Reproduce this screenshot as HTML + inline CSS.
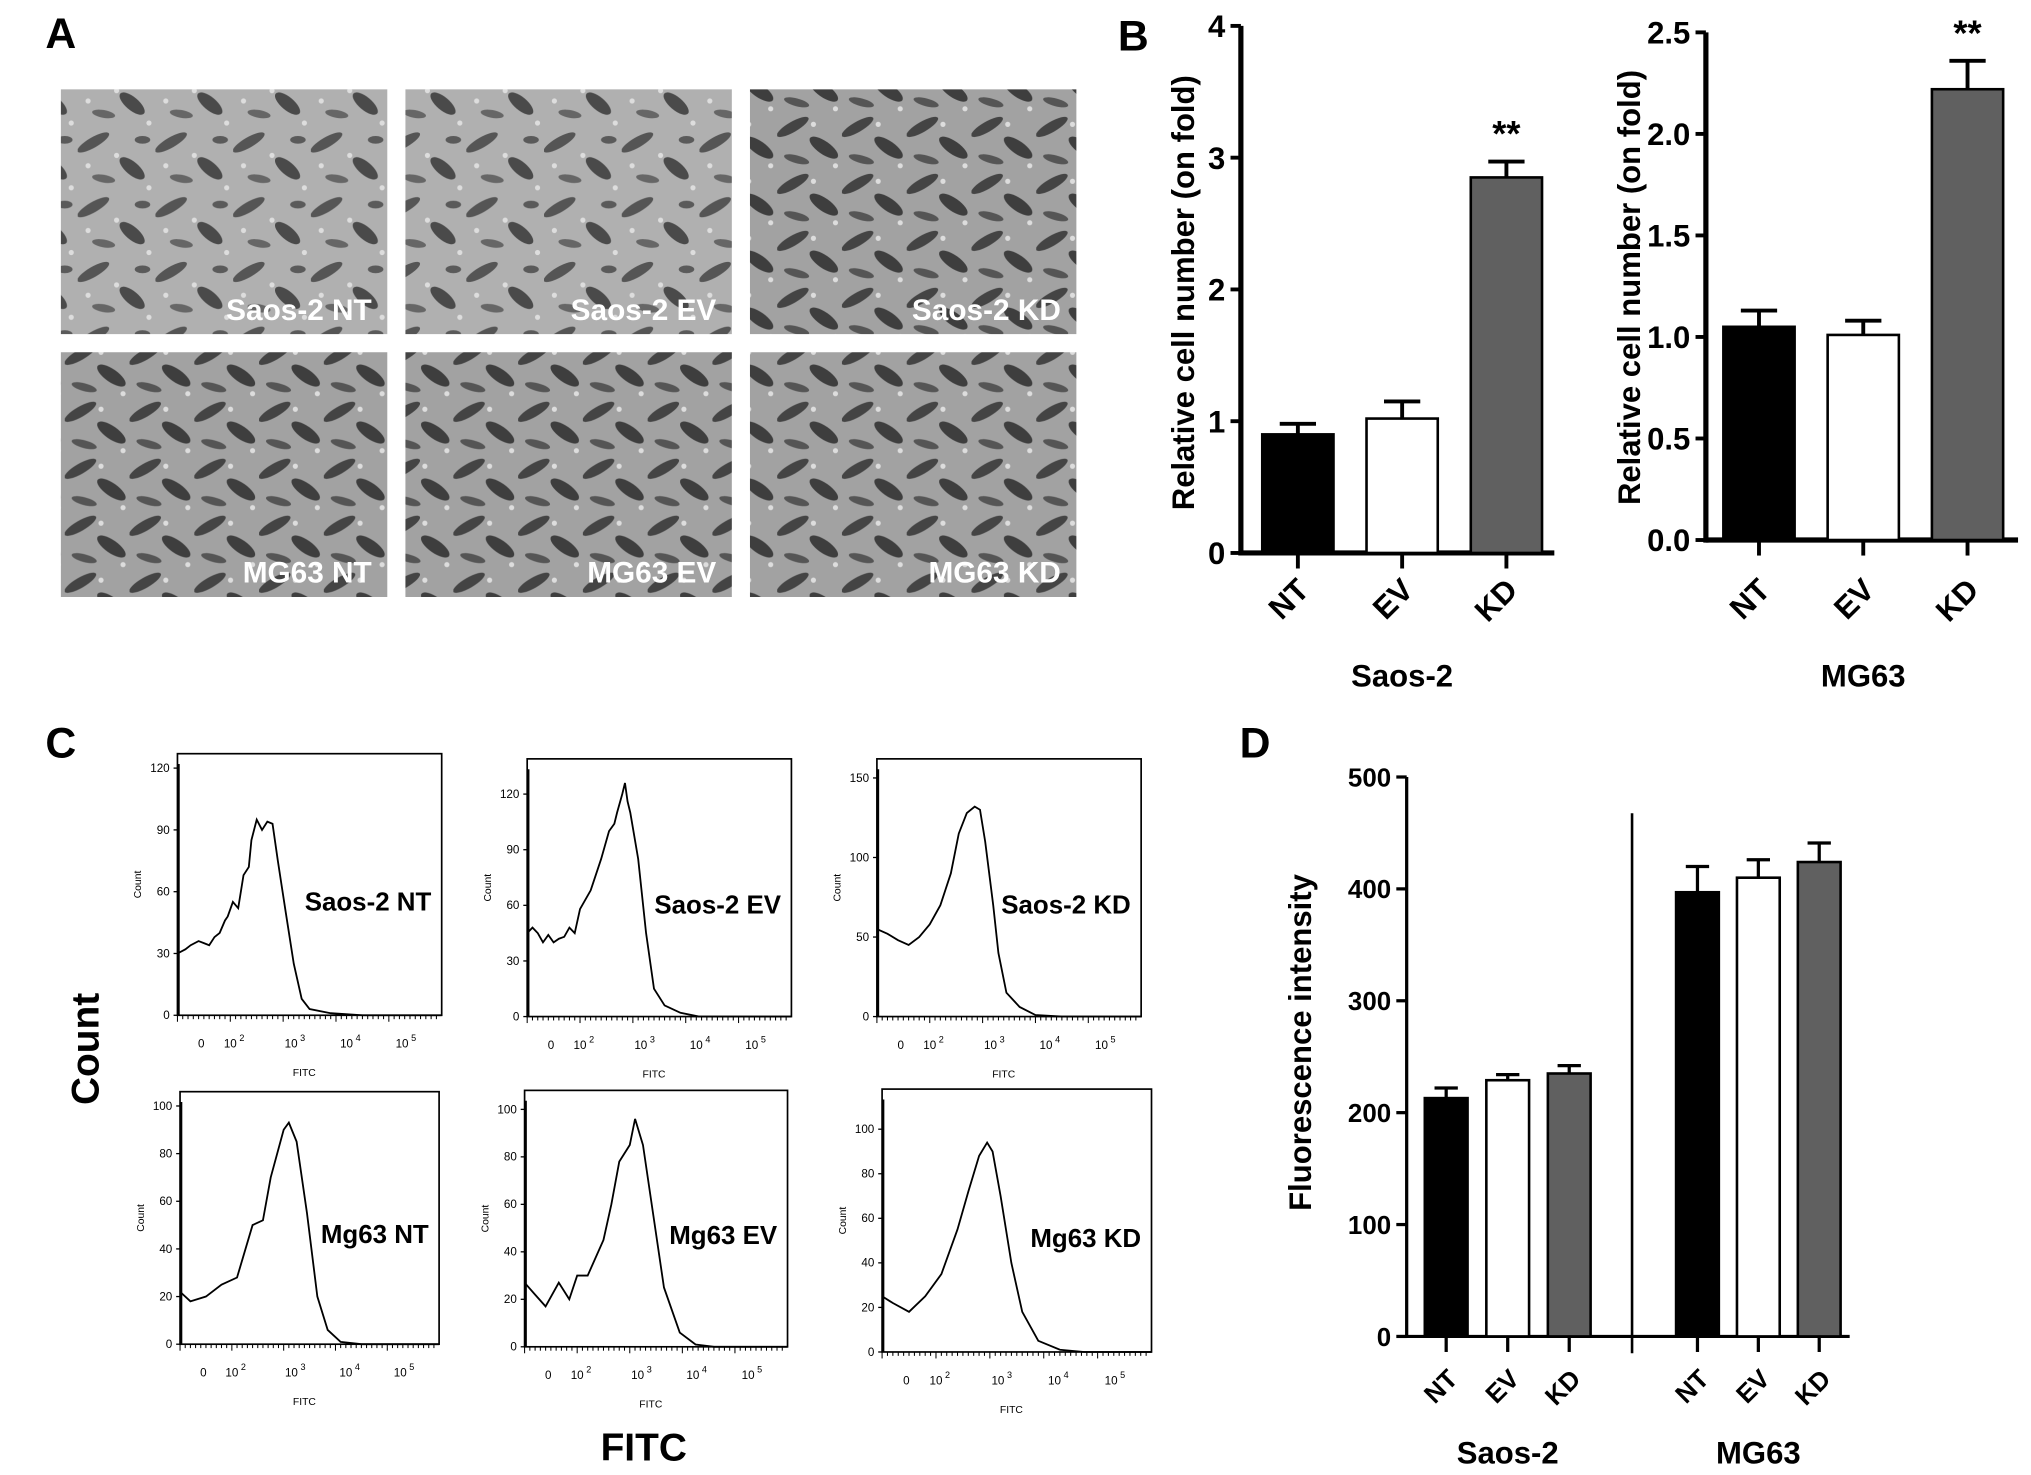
<!DOCTYPE html>
<html><head><meta charset="utf-8"><style>
html,body{margin:0;padding:0;background:#fff;}
svg{display:block;font-family:"Liberation Sans",Arial,sans-serif;}
</style></head><body>
<svg id="fig" width="2031" height="1475" viewBox="0 0 1568 1139" preserveAspectRatio="none" xmlns="http://www.w3.org/2000/svg">
<defs>
<pattern id="cells" width="60" height="50" patternUnits="userSpaceOnUse">
<rect width="60" height="50" fill="#b0b0b0"/>
<ellipse cx="12" cy="10" rx="14" ry="4" fill="#555" transform="rotate(-30 12 10)"/>
<ellipse cx="42" cy="30" rx="12" ry="5" fill="#4a4a4a" transform="rotate(40 42 30)"/>
<ellipse cx="20" cy="38" rx="9" ry="3" fill="#666" transform="rotate(10 20 38)"/>
<ellipse cx="50" cy="8" rx="6" ry="3" fill="#5a5a5a"/>
<circle cx="30" cy="20" r="2" fill="#ddd"/><circle cx="8" cy="28" r="2" fill="#ddd"/><circle cx="55" cy="45" r="2" fill="#ddd"/>
</pattern>
<pattern id="cells2" width="50" height="44" patternUnits="userSpaceOnUse">
<rect width="50" height="44" fill="#a2a2a2"/>
<ellipse cx="12" cy="10" rx="14" ry="4" fill="#444" transform="rotate(-30 12 10)"/>
<ellipse cx="36" cy="26" rx="13" ry="5" fill="#3e3e3e" transform="rotate(35 36 26)"/>
<ellipse cx="15" cy="35" rx="10" ry="3" fill="#555" transform="rotate(15 15 35)"/>
<circle cx="28" cy="8" r="2" fill="#ddd"/><circle cx="45" cy="40" r="2" fill="#ddd"/>
</pattern>
</defs>
<g id="root"></g>
</svg>
<script>
// ---------- Panel B data ----------
const bCats = ["NT","EV","KD"];
const bSaosVals = [0.90, 1.02, 2.85];
const bSaosErr = [0.08, 0.13, 0.12];
const bMgVals = [1.05, 1.01, 2.22];
const bMgErr = [0.08, 0.07, 0.14];
const bSaosTicks = [0,1,2,3,4];
const bMgTicks = ["0.0","0.5","1.0","1.5","2.0","2.5"];
// ---------- Panel D data ----------
const dCats = ["NT","EV","KD"];
const dSaosVals = [213, 229, 235];
const dSaosErr = [9, 5, 7];
const dMgVals = [397, 410, 424];
const dMgErr = [23, 16, 17];
const dTicks = [0,100,200,300,400,500];
// ---------- Panel C histogram data (x fraction of box, count) ----------
const hSaosNT = [[0,30],[0.03,32],[0.05,34],[0.08,36],[0.1,35],[0.12,34],[0.14,38],[0.16,40],[0.18,46],[0.19,48],[0.21,55],[0.23,52],[0.25,68],[0.27,72],[0.28,85],[0.3,95],[0.32,90],[0.34,94],[0.36,93],[0.38,75],[0.41,50],[0.44,25],[0.47,8],[0.5,3],[0.58,1],[0.7,0],[1,0]];
const hSaosEV = [[0,45],[0.02,48],[0.04,45],[0.06,40],[0.08,44],[0.1,40],[0.12,42],[0.14,43],[0.16,48],[0.18,45],[0.2,58],[0.24,68],[0.28,85],[0.31,100],[0.33,104],[0.34,110],[0.36,120],[0.37,126],[0.38,116],[0.39,110],[0.42,85],[0.45,45],[0.48,15],[0.52,6],[0.58,2],[0.65,0],[1,0]];
const hSaosKD = [[0,55],[0.04,52],[0.08,48],[0.12,45],[0.16,50],[0.2,58],[0.24,70],[0.28,90],[0.31,115],[0.34,128],[0.37,132],[0.39,130],[0.41,110],[0.44,70],[0.46,40],[0.49,15],[0.54,6],[0.6,1],[0.7,0],[1,0]];
const hMgNT = [[0,22],[0.04,18],[0.1,20],[0.16,25],[0.22,28],[0.28,50],[0.32,52],[0.35,70],[0.4,90],[0.42,93],[0.45,85],[0.49,55],[0.53,20],[0.57,6],[0.62,1],[0.7,0],[1,0]];
const hMgEV = [[0,27],[0.04,22],[0.08,17],[0.13,27],[0.17,20],[0.2,30],[0.24,30],[0.3,45],[0.33,60],[0.36,78],[0.4,85],[0.42,96],[0.45,85],[0.49,55],[0.53,25],[0.59,6],[0.65,1],[0.72,0],[1,0]];
const hMgKD = [[0,25],[0.04,22],[0.1,18],[0.16,25],[0.22,35],[0.28,55],[0.32,72],[0.36,88],[0.39,94],[0.41,90],[0.44,70],[0.48,40],[0.52,18],[0.58,5],[0.66,1],[0.75,0],[1,0]];
const hTicksA = [0,30,60,90,120];
const hTicksB = [0,50,100,150];
const hTicksC = [0,20,40,60,80,100];

const NS="http://www.w3.org/2000/svg";
const root=document.getElementById('root');
function el(tag,attrs,parent,txt){const e=document.createElementNS(NS,tag);for(const k in attrs)e.setAttribute(k,attrs[k]);if(txt!==undefined)e.textContent=txt;(parent||root).appendChild(e);return e;}
function txt(x,y,s,size,opts,parent){opts=opts||{};const a={x:x,y:y,'font-size':size,'font-weight':opts.w||'bold',fill:opts.fill||'#000','text-anchor':opts.anchor||'start'};if(opts.tr)a.transform=opts.tr;return el('text',a,parent,s);}

// Panel letters
[["A",35,37],["B",863,39],["C",35,585],["D",957,585]].forEach(p=>{
 const t=txt(p[1],p[2],p[0],33);
 
 
});

// ---------- Panel A micrographs ----------
const aLabels=[["Saos-2 NT","Saos-2 EV","Saos-2 KD"],["MG63 NT","MG63 EV","MG63 KD"]];
const aX=[47,313,579], aY=[69,272];
for(let r=0;r<2;r++)for(let c=0;c<3;c++){
 const g=el('g',{});
 
 
 el('rect',{x:aX[c],y:aY[r],width:252,height:189,fill:(r===1||c===2)?'url(#cells2)':'url(#cells)'},g);
 const t=txt(aX[c]+240,aY[r]+178,aLabels[r][c],23,{fill:'#fff',anchor:'end'},g);
 
 
}

// ---------- bar chart helper ----------
function barChart(cfg){
 const g=el('g',{});
 
 
 const y=v=>cfg.y0-(v-cfg.min)/(cfg.max-cfg.min)*(cfg.y0-cfg.yTop);
 const ya=el('line',{x1:cfg.ax,y1:cfg.yTop,x2:cfg.ax,y2:cfg.y0+cfg.axW/2,stroke:'#000','stroke-width':cfg.axW},g);
 
 
 cfg.ticks.forEach(tk=>{
  const v=parseFloat(tk);
  el('line',{x1:cfg.ax-8,y1:y(v),x2:cfg.ax,y2:y(v),stroke:'#000','stroke-width':cfg.tkW},g);
  const t=txt(cfg.ax-12,y(v)+cfg.fs*0.36,String(tk),cfg.fs,{anchor:'end'},g);
  
  
 });
 const yt=txt(0,0,cfg.ytitle,cfg.tfs,{anchor:'middle',tr:`translate(${cfg.titleX},${cfg.titleY}) rotate(-90)`},g);
 
 
 const xa=el('line',{x1:cfg.ax,y1:cfg.y0,x2:cfg.xEnd,y2:cfg.y0,stroke:'#000','stroke-width':cfg.axW},g);
 
 
 cfg.groups.forEach(gr=>{
  gr.vals.forEach((v,i)=>{
   const cx=gr.x0+i*gr.step;
   const fills=['#000','#fff','#606060'];
   const bt=y(v), be=y(v+gr.err[i]);
   const eb=el('line',{x1:cx,y1:bt,x2:cx,y2:be,stroke:'#000','stroke-width':cfg.tkW},g);
   
   
   el('line',{x1:cx-cfg.capW/2,y1:be,x2:cx+cfg.capW/2,y2:be,stroke:'#000','stroke-width':cfg.tkW},g);
   const b=el('rect',{x:cx-cfg.bw/2,y:bt,width:cfg.bw,height:cfg.y0-bt,fill:fills[i],stroke:'#000','stroke-width':2},g);
   
   
   el('line',{x1:cx,y1:cfg.y0,x2:cx,y2:cfg.y0+12,stroke:'#000','stroke-width':cfg.tkW},g);
   const lt=txt(0,0,cfg.cats[i],cfg.fs,{anchor:'end',tr:`translate(${cx+10},${cfg.y0+cfg.labDy}) rotate(-45)`},g);
   
   
   if(gr.star&&gr.star[i]){
    const s=txt(cx,be-12,gr.star[i],28,{anchor:'middle'},g);
    
    
   }
  });
  const gl=txt(gr.x0+gr.step,cfg.groupY,gr.label,cfg.tfs,{anchor:'middle'},g);
  
  
 });
 return {g,y};
}

barChart({name:'chart-b-saos2',ax:958,yTop:20,y0:427,min:0,max:4,xEnd:1200,axW:4,tkW:3,fs:24,tfs:24,ticks:bSaosTicks,
 ytitle:'Relative cell number (on fold)',titleX:922,titleY:226,capW:28,bw:55,labDy:30,groupY:530,cats:bCats,
 groups:[{label:'Saos-2',vals:bSaosVals,err:bSaosErr,x0:1002,step:80.5,star:[null,null,'**']}]});
barChart({name:'chart-b-mg63',ax:1317,yTop:25,y0:417,min:0,max:2.5,xEnd:1558,axW:4,tkW:3,fs:24,tfs:24,ticks:bMgTicks,
 ytitle:'Relative cell number (on fold)',titleX:1266,titleY:222,capW:28,bw:55,labDy:40,groupY:530,cats:bCats,
 groups:[{label:'MG63',vals:bMgVals,err:bMgErr,x0:1358,step:80.5,star:[null,null,'**']}]});
barChart({name:'chart-d-fluorescence',ax:1086,yTop:600,y0:1032,min:0,max:500,xEnd:1428,axW:2.5,tkW:2.5,fs:20,tfs:24,ticks:dTicks,
 ytitle:'Fluorescence intensity',titleX:1012,titleY:805,capW:18,bw:33,labDy:34,groupY:1130,cats:dCats,
 groups:[{label:'Saos-2',vals:dSaosVals,err:dSaosErr,x0:1116.5,step:47.5},{label:'MG63',vals:dMgVals,err:dMgErr,x0:1310.5,step:47}]});
const dv=el('line',{x1:1260,y1:628,x2:1260,y2:1045,stroke:'#000','stroke-width':2});



// ---------- Panel C histograms ----------
const hists=[
 {name:'Saos-2 NT',data:hSaosNT,x:137,y:582,w:204,h:202,ymax:127,ticks:hTicksA},
 {name:'Saos-2 EV',data:hSaosEV,x:407,y:586,w:204,h:199,ymax:139,ticks:hTicksA},
 {name:'Saos-2 KD',data:hSaosKD,x:677,y:586,w:204,h:199,ymax:162,ticks:hTicksB},
 {name:'Mg63 NT',data:hMgNT,x:139,y:843,w:200,h:195,ymax:106,ticks:hTicksC},
 {name:'Mg63 EV',data:hMgEV,x:405,y:842,w:203,h:198,ymax:108,ticks:hTicksC},
 {name:'Mg63 KD',data:hMgKD,x:681,y:841,w:208,h:203,ymax:118,ticks:hTicksC}];
hists.forEach(H=>{
 const g=el('g',{});
 
 
 const y0=H.y+H.h;
 const sx=f=>H.x+f*H.w, sy=v=>y0-v/H.ymax*H.h;
 el('rect',{x:H.x,y:H.y,width:H.w,height:H.h,fill:'none',stroke:'#000','stroke-width':1.3},g);
 H.ticks.forEach(v=>{
  el('line',{x1:H.x-3,y1:sy(v),x2:H.x,y2:sy(v),stroke:'#000','stroke-width':1},g);
  const t=txt(H.x-6,sy(v)+3,String(v),9,{anchor:'end',w:'normal'},g);
  
  
 });
 const ct=txt(0,0,'Count',8,{anchor:'middle',w:'normal',tr:`translate(${H.x-28},${H.y+H.h/2}) rotate(-90)`},g);
 
 
 for(let i=0;i<50;i++)el('line',{x1:H.x+i*H.w/50,y1:y0,x2:H.x+i*H.w/50,y2:y0+(i%10===0?5:3),stroke:'#000','stroke-width':0.8},g);
 const xl=[["0",0.09],["10",0.2],["10",0.43],["10",0.64],["10",0.85]];
 const ex=["","2","3","4","5"];
 xl.forEach((p,i)=>{
  const t=txt(sx(p[1]),y0+25,p[0],9,{anchor:'middle',w:'normal'},g);
  
  
  if(ex[i])txt(sx(p[1])+7,y0+20,ex[i],7,{w:'normal'},g);
 });
 const ft=txt(H.x+H.w*0.48,y0+47,'FITC',8,{anchor:'middle',w:'normal'},g);
 
 
 el('line',{x1:H.x+1,y1:H.y+8,x2:H.x+1,y2:y0,stroke:'#000','stroke-width':1.5},g);
 const d=H.data.map((p,i)=>(i?'L':'M')+sx(p[0]).toFixed(1)+','+sy(p[1]).toFixed(1)).join(' ');
 const pth=el('path',{d:d,fill:'none',stroke:'#000','stroke-width':1.4},g);
 
 
 const lb=txt(H.x+H.w-8,H.y+H.h*0.6,H.name,20,{anchor:'end'},g);
 
 
});
const cC=txt(0,0,'Count',30,{anchor:'middle',tr:'translate(76,810) rotate(-90)'});


const cF=txt(497,1128,'FITC',30,{anchor:'middle'});


</script>
</body></html>
